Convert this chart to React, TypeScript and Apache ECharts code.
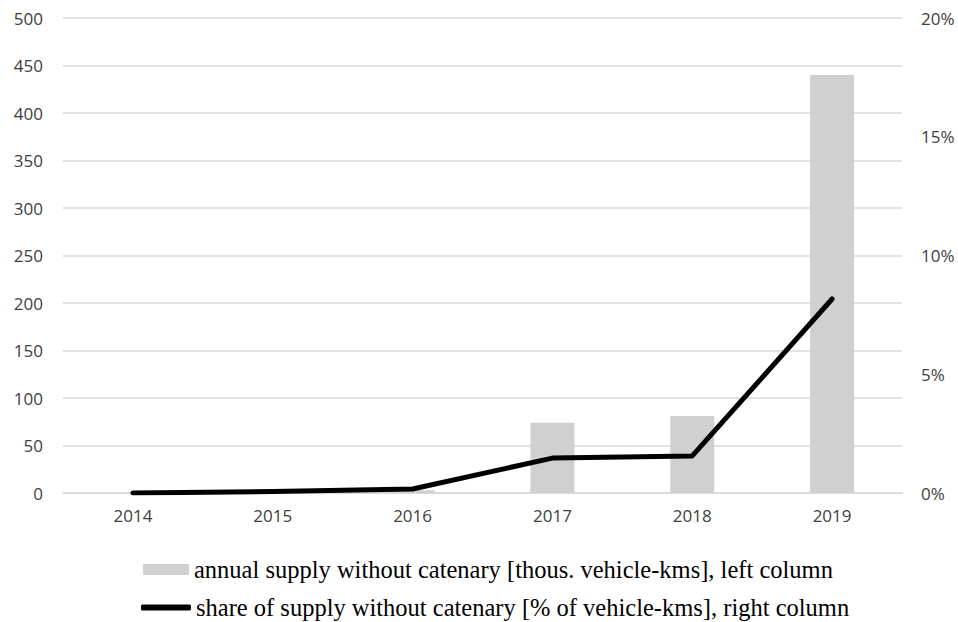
import React, { useEffect, useRef } from "react";
import * as echarts from "echarts";

const years = ["2014", "2015", "2016", "2017", "2018", "2019"];
const supplyValues = [0, 1, 3, 74, 81, 440];
const shareValues = [0, 0.06, 0.17, 1.47, 1.56, 8.17];
const leftTicks = { min: 0, max: 500, interval: 50 };
const rightTicks = { min: 0, max: 20, interval: 5 };
const barName = "annual supply without catenary [thous. vehicle-kms], left column";
const lineName = "share of supply without catenary [% of vehicle-kms], right column";

export default function App() {
  const ref = useRef<HTMLDivElement>(null);
  useEffect(() => {
    if (!ref.current) return;
    const chart = echarts.init(ref.current, null, { renderer: "svg" });
    const axisFont = { fontFamily: "'Open Sans', sans-serif", fontSize: 17, color: "#404040" };
    const legendText = { fontFamily: "'Liberation Serif', 'Times New Roman', serif", fontSize: 24.5, color: "#000", lineHeight: 24 };
    chart.setOption({
      animation: false,
      backgroundColor: "#fff",
      grid: { left: 63, right: 56, top: 18, bottom: 129, containLabel: false },
      legend: [
        {
          data: [{ name: barName, icon: "rect" }],
          left: 143,
          top: 557,
          padding: 0,
          itemWidth: 46,
          itemHeight: 11,
          textStyle: legendText,
          selectedMode: false,
        },
        {
          data: [{ name: lineName, icon: "roundRect" }],
          left: 141,
          top: 595,
          padding: 0,
          itemWidth: 50,
          itemHeight: 6,
          textStyle: legendText,
          selectedMode: false,
        },
      ],
      xAxis: {
        type: "category",
        data: years,
        axisLine: { show: true, lineStyle: { color: "#d9d9d9", width: 1.5 } },
        axisTick: { show: false },
        axisLabel: { ...axisFont, margin: 14 },
      },
      yAxis: [
        {
          type: "value",
          min: leftTicks.min,
          max: leftTicks.max,
          interval: leftTicks.interval,
          axisLine: { show: false },
          axisTick: { show: false },
          axisLabel: { ...axisFont, margin: 20 },
          splitLine: { lineStyle: { color: "#d9d9d9", width: 1.5 } },
        },
        {
          type: "value",
          min: rightTicks.min,
          max: rightTicks.max,
          interval: rightTicks.interval,
          position: "right",
          axisLine: { show: false },
          axisTick: { show: false },
          axisLabel: { ...axisFont, margin: 19, formatter: "{value}%" },
          splitLine: { show: false },
        },
      ],
      series: [
        {
          name: barName,
          type: "bar",
          data: supplyValues,
          barWidth: 44,
          itemStyle: { color: "#d0d0d0" },
          yAxisIndex: 0,
          z: 2,
        },
        {
          name: lineName,
          type: "line",
          data: shareValues,
          yAxisIndex: 1,
          showSymbol: false,
          symbol: "none",
          lineStyle: { color: "#000", width: 5, cap: "round", join: "round" },
          itemStyle: { color: "#000" },
          z: 3,
        },
      ],
    });
    return () => chart.dispose();
  }, []);
  return <div ref={ref} style={{ width: 958, height: 622, position: "absolute", left: 0, top: 0 }} />;
}
